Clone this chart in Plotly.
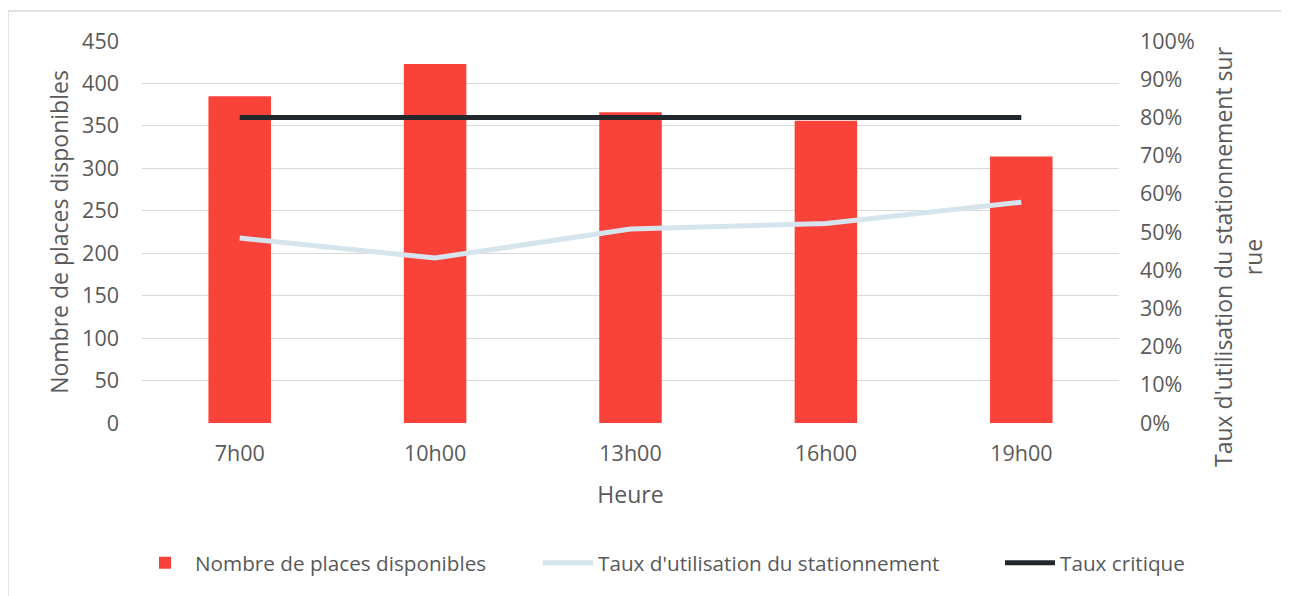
import plotly.graph_objects as go

heures = ["7h00", "10h00", "13h00", "16h00", "19h00"]
places = [385, 423, 366, 356, 314]
taux_utilisation = [0.484, 0.432, 0.508, 0.522, 0.578]
taux_critique = [0.80, 0.80, 0.80, 0.80, 0.80]

font_family = "Open Sans, Liberation Sans, sans-serif"
grey = "#595959"

# page body has an 8px margin: shrink the figure so the layout lands where the reference has it
W, H = 1281, 588
L, T, PW, PH = 134, 33, 977, 382

fig = go.Figure()
fig.add_trace(go.Bar(
    x=heures, y=places, name="Nombre de places disponibles",
    marker=dict(color="#F9423A", line=dict(width=0)), yaxis="y", legend="legend"))
fig.add_trace(go.Scatter(
    x=heures, y=taux_utilisation, name="Taux d'utilisation du stationnement",
    mode="lines", line=dict(color="#D6E4EE", width=5), yaxis="y2", legend="legend2"))
fig.add_trace(go.Scatter(
    x=heures, y=taux_critique, name="Taux critique",
    mode="lines", line=dict(color="#21272D", width=5), yaxis="y2", legend="legend3"))

leg_common = dict(orientation="h", xanchor="left", y=-0.366, yanchor="middle",
                  font=dict(size=20.7, color=grey), itemwidth=50, bgcolor="rgba(0,0,0,0)")

fig.update_layout(
    width=W, height=H,
    margin=dict(l=L, r=W - L - PW, t=T, b=H - T - PH),
    paper_bgcolor="white", plot_bgcolor="white",
    font=dict(family=font_family, size=21.5, color=grey),
    bargap=0.68,
    showlegend=True,
    legend=dict(x=(127 - L) / PW, **leg_common),
    legend2=dict(x=(530 - L) / PW, **leg_common),
    legend3=dict(x=(992 - L) / PW, **leg_common),
    xaxis=dict(showgrid=False, showline=False, ticks="", ticklabelstandoff=15,
               title=dict(text="Heure", font=dict(size=23, color=grey), standoff=21)),
    yaxis=dict(range=[0, 450], dtick=50, showgrid=True, gridcolor="#D9D9D9", gridwidth=1,
               zeroline=False, showline=False, ticks="", ticklabelstandoff=22,
               title=dict(text="Nombre de places disponibles", font=dict(size=23, color=grey), standoff=7)),
    yaxis2=dict(range=[0, 1], dtick=0.1, tickformat=".0%", overlaying="y", side="right",
                showgrid=False, zeroline=False, showline=False, ticks="", ticklabelstandoff=20),
    annotations=[dict(
        text="Taux d'utilisation du stationnement sur<br>rue", textangle=-90,
        xref="paper", yref="paper", x=(1238 - 142) / PW, y=(423 - 257) / PH,
        xanchor="center", yanchor="middle",
        showarrow=False, font=dict(size=23, color=grey), align="center")],
    shapes=[dict(type="rect", xref="paper", yref="paper",
                 x0=(8 - 142) / PW, x1=(1300 - 142) / PW,
                 y0=(423 - 610) / PH, y1=(423 - 11) / PH,
                 line=dict(color="#D9D9D9", width=1.5), layer="below")],
)

fig.write_html("out.html")
